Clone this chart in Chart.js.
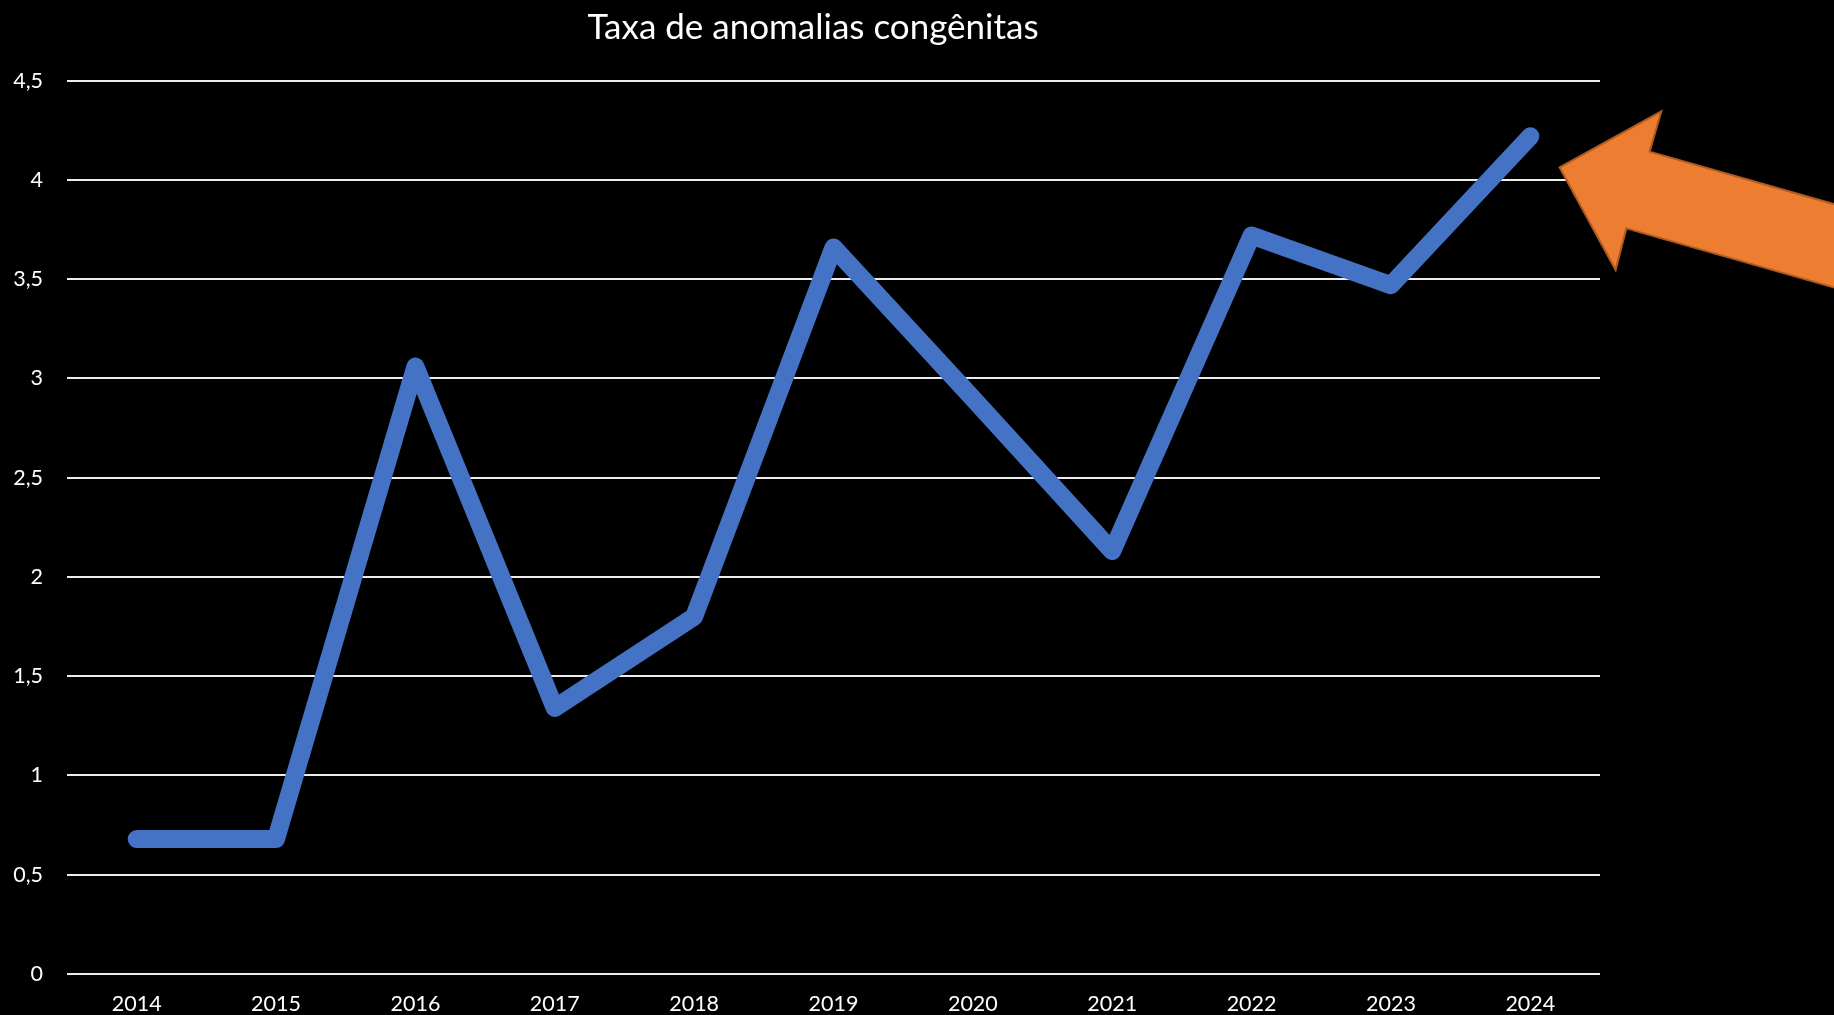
<!DOCTYPE html>
<html>
<head>
<meta charset="utf-8">
<script src="https://cdn.jsdelivr.net/npm/chart.js@4"></script>
<style>
  html, body { margin: 0; padding: 0; background: #000; }
  #wrap { width: 1834px; height: 1015px; }
</style>
</head>
<body>
<div id="wrap"><canvas id="c" width="1834" height="1015"></canvas></div>
<script>
const chartTitle = "Taxa de anomalias congênitas";
const categories = ["2014","2015","2016","2017","2018","2019","2020","2021","2022","2023","2024"];
const rateValues = [0.68, 0.68, 3.06, 1.34, 1.80, 3.66, 2.90, 2.13, 3.72, 3.47, 4.22];
const yTickMin = 0;
const yTickMax = 4.5;
const yTickStep = 0.5;

// Decorative callout arrow, drawn next to the last point
const arrowPlugin = {
  id: 'arrowCallout',
  afterLayout(chart) {
    // centre the title a little left of the full canvas width, as in the original slide
    if (chart.titleBlock) {
      chart.titleBlock.left = 26;
    }
  },
  afterDatasetsDraw(chart) {
    const meta = chart.getDatasetMeta(0);
    const last = meta.data[meta.data.length - 1];
    if (!last) return;
    const ox = last.x, oy = last.y;
    // shape offsets relative to the last point (pixels)
    const shape = [
      [29.3, 31.1], [131, -24.9], [119.3, 15.4], [400.3, 95.3],
      [400.3, 178.7], [96, 92.1], [85.3, 133.7]
    ];
    const ctx = chart.ctx;
    ctx.save();
    ctx.beginPath();
    shape.forEach(([dx, dy], i) => {
      if (i === 0) ctx.moveTo(ox + dx, oy + dy); else ctx.lineTo(ox + dx, oy + dy);
    });
    ctx.closePath();
    ctx.fillStyle = '#ED7D31';
    ctx.fill();
    ctx.lineWidth = 2;
    ctx.strokeStyle = '#AE5A21';
    ctx.lineJoin = 'miter';
    ctx.stroke();
    ctx.restore();
  }
};

new Chart(document.getElementById('c'), {
  type: 'line',
  data: {
    labels: categories,
    datasets: [{
      label: chartTitle,
      data: rateValues,
      borderColor: '#4472C4',
      backgroundColor: '#4472C4',
      borderWidth: 18,
      borderCapStyle: 'round',
      borderJoinStyle: 'round',
      pointRadius: 0,
      pointHoverRadius: 0,
      tension: 0,
      fill: false
    }]
  },
  options: {
    responsive: false,
    animation: false,
    layout: { padding: { left: 0, right: 234, top: 0, bottom: 0 } },
    plugins: {
      legend: { display: false },
      tooltip: { enabled: false },
      title: {
        display: true,
        text: chartTitle,
        color: '#ffffff',
        font: { family: 'Lato', size: 35, weight: 'normal' },
        padding: { top: 7, bottom: 31.7 }
      }
    },
    scales: {
      x: {
        offset: true,
        afterFit(scale) { scale.height = 41; },
        grid: { display: false, drawTicks: false },
        border: { display: false },
        ticks: {
          color: '#ffffff',
          font: { family: 'Lato', size: 21.5 },
          padding: 17,
          maxRotation: 0,
          autoSkip: false
        }
      },
      y: {
        min: yTickMin,
        max: yTickMax,
        afterFit(scale) { scale.width = 67; },
        grid: { color: '#ececec', lineWidth: 2, drawTicks: false },
        border: { display: false },
        ticks: {
          stepSize: yTickStep,
          color: '#ffffff',
          font: { family: 'Lato', size: 21.5 },
          padding: 24,
          callback: (v) => String(v).replace('.', ',')
        }
      }
    }
  },
  plugins: [arrowPlugin]
});
</script>
</body>
</html>
